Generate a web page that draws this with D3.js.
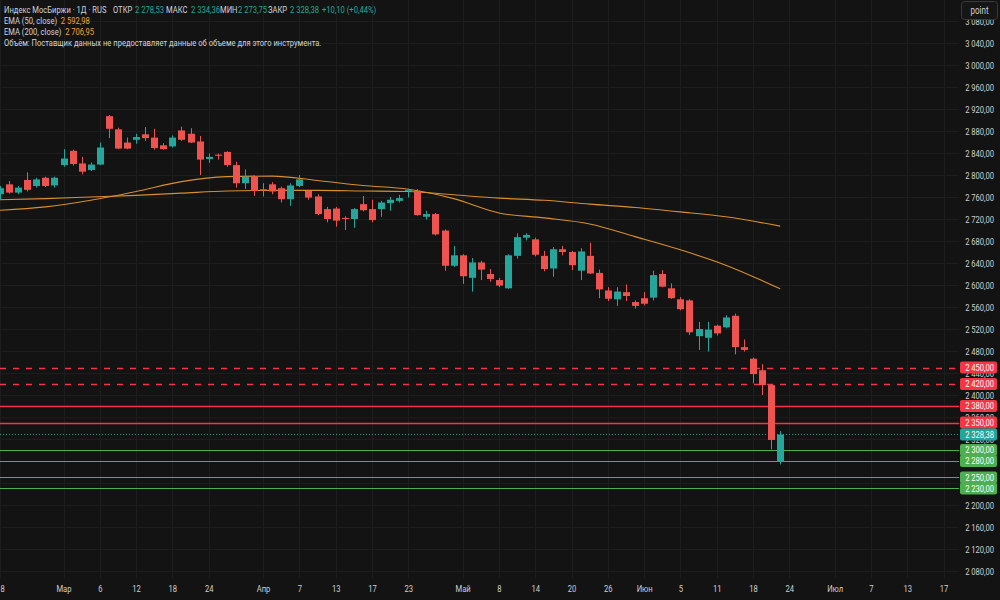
<!DOCTYPE html>
<html><head><meta charset="utf-8">
<script src="https://cdn.jsdelivr.net/npm/d3@7"></script>
<style>
html,body{margin:0;padding:0;background:#131313;}
svg{display:block;}
text{font-family:Roboto,"Liberation Sans",sans-serif;}
</style></head><body>
<svg id="chart" width="1000" height="600"></svg>
<script>
// ---- categories (trading days, 2026) ----
const dates = [
 "02-18","02-19","02-20","02-24","02-25","02-26","02-27",
 "03-02","03-03","03-04","03-05","03-06","03-09","03-10","03-11","03-12","03-13","03-16","03-17","03-18","03-19","03-20","03-23","03-24","03-25","03-26","03-27","03-30","03-31",
 "04-01","04-02","04-03","04-06","04-07","04-08","04-09","04-10","04-13","04-14","04-15","04-16","04-17","04-20","04-21","04-22","04-23","04-24","04-27","04-28","04-29","04-30",
 "05-04","05-05","05-06","05-07","05-08","05-11","05-12","05-13","05-14","05-15","05-18","05-19","05-20","05-21","05-22","05-25","05-26","05-27","05-28","05-29",
 "06-01","06-02","06-03","06-04","06-05","06-08","06-09","06-10","06-11","06-15","06-16","06-17","06-18","06-19","06-22","06-23",
 "06-24","06-25","06-26","06-29","06-30","07-01","07-02","07-03","07-06","07-07","07-08","07-09","07-10","07-13","07-14","07-15","07-16","07-17"
];
// ---- OHLC series ----
const openV  = [2765,2783,2768,2791,2780,2795,2781,2818,2844,2821,2809,2819,2907,2883,2859,2864,2874,2868,2854,2852,2881,2875,2861,2829,2837,2842,2818,2785,2797,2774,2783,2776,2756,2780,2771,2761,2738,2739,2722,2720,2747,2738,2738,2749,2753,2772,2771,2724,2729,2699,2635,2654,2613,2641,2620,2609,2594,2653,2686,2683,2653,2630,2665,2660,2626,2653,2622,2590,2574,2587,2569,2576,2577,2620,2594,2574,2572,2507,2504,2526,2523,2544,2487,2466,2445,2418,2278.53];
const highV  = [2780,2789,2780,2805,2795,2797,2797,2847,2846,2833,2823,2859,2909,2886,2868,2875,2887,2884,2858,2872,2888,2885,2871,2839,2839,2843,2824,2810,2799,2785,2787,2779,2785,2800,2773,2765,2742,2742,2725,2740,2762,2755,2753,2760,2764,2775,2774,2735,2731,2701,2671,2656,2649,2644,2629,2613,2656,2694,2694,2686,2662,2669,2671,2662,2667,2677,2628,2596,2596,2601,2572,2587,2626,2627,2603,2578,2574,2533,2533,2528,2545,2548,2501,2468,2456,2420,2334.36];
const lowV   = [2755,2766,2765,2770,2777,2778,2777,2815,2817,2801,2807,2818,2867,2847,2847,2857,2862,2846,2846,2850,2862,2858,2800,2822,2828,2815,2777,2775,2762,2761,2765,2750,2744,2778,2755,2727,2714,2706,2700,2704,2734,2714,2724,2735,2750,2759,2726,2719,2690,2626,2633,2602,2588,2609,2606,2596,2593,2648,2681,2652,2625,2615,2654,2627,2609,2620,2576,2571,2562,2571,2557,2563,2572,2596,2575,2554,2509,2482,2479,2508,2521,2474,2479,2421,2400,2301,2273.75];
const closeV = [2776,2768,2777,2773,2792,2780,2795,2830,2820,2806,2819,2850,2884,2848,2848,2869,2867,2849,2847,2868,2864,2859,2828,2833,2835,2818,2785,2797,2771,2772,2770,2756,2781,2792,2759,2729,2720,2717,2720,2738,2736,2718,2750,2755,2758,2773,2727,2729,2692,2635,2654,2616,2641,2628,2611,2599,2654,2687,2691,2655,2629,2665,2660,2636,2661,2621,2592,2575,2588,2580,2562,2566,2618,2597,2576,2556,2514,2520,2519,2512,2541,2487,2482,2438,2418,2318.28,2328.38];
// ---- EMA lines, read at sample bars ----
const emaIdx  = [0,5,10,15,20,25,30,35,40,45,50,55,60,65,70,75,80,86];
const ema50V  = [2736,2742,2754,2770,2788,2797,2798,2790,2781,2774,2757,2731,2722,2711,2688,2664,2636,2593];
const ema200V = [2755,2757,2760,2763,2767,2771,2772,2772,2771,2770,2764,2758,2754,2747,2741,2733,2724,2707];
// ---- horizontal levels ----
const levelValues = [2450,2420,2380,2350,2300,2280,2250,2230];
const levelKinds  = ["dashRed","dashRed","red","red","green","green","green","green"];
const lastPrice = 2328.38;
// ---- ticks ----
const yTicks = [2080,2120,2160,2200,2240,2280,2320,2360,2400,2440,2480,2520,2560,2600,2640,2680,2720,2760,2800,2840,2880,2920,2960,3000,3040,3080];
const xTickDates  = ["02-18","03-02","03-06","03-12","03-18","03-24","04-01","04-07","04-13","04-17","04-23","05-04","05-08","05-14","05-20","05-26","06-01","06-05","06-11","06-18","06-24","07-01","07-07","07-13","07-17"];
const xTickLabels = ["18","Мар","6","12","18","24","Апр","7","13","17","23","Май","8","14","20","26","Июн","5","11","18","24","Июл","7","13","17"];
// ---- legend texts ----
const legendRow1 = ["Индекс МосБиржи · 1Д · RUS","ОТКР","2 278,53","МАКС","2 334,36","МИН","2 273,75","ЗАКР","2 328,38","+10,10 (+0,44%)"];
const legendRow1Kind = ["t","t","v","t","v","t","v","t","v","v"];

const W = 1000, H = 600, plotRight = 959;
const UP = "#26a69a", DOWN = "#ef5350";
const SQ = "scale(0.8,1)";
const svg = d3.select("#chart");
svg.append("rect").attr("width", W).attr("height", H).attr("fill", "#131313");

const x = d3.scalePoint().domain(dates).range([0, 943.5]);
const y = d3.scaleLinear().domain([2080, 3080]).range([571, 21]);
const loc = d3.formatLocale({decimal: ",", thousands: "\u2009", grouping: [3], currency: ["", ""]});
const fmt = loc.format(",.2f");

// grid
const grid = svg.append("g");
grid.selectAll("line.h").data(yTicks).join("line")
  .attr("x1", 0).attr("x2", plotRight).attr("y1", d => Math.round(y(d)) + 0.5).attr("y2", d => Math.round(y(d)) + 0.5)
  .attr("stroke", "#1d1d1d");
grid.selectAll("line.v").data(xTickDates).join("line")
  .attr("y1", 0).attr("y2", 578).attr("x1", d => Math.round(x(d)) + 0.5).attr("x2", d => Math.round(x(d)) + 0.5)
  .attr("stroke", "#1d1d1d");

// level lines
const levelStyle = {
  dashRed: {stroke: "#f23645", dash: "6,7", w: 1.3},
  red:     {stroke: "#f23645", dash: null, w: 1.3},
  green:   {stroke: "#4caf50", dash: null, w: 1.1}
};
svg.append("g").selectAll("line").data(levelValues).join("line")
  .attr("x1", 0).attr("x2", plotRight)
  .attr("y1", d => Math.round(y(d)) + 0.5).attr("y2", d => Math.round(y(d)) + 0.5)
  .attr("stroke", (d, i) => levelStyle[levelKinds[i]].stroke)
  .attr("stroke-width", (d, i) => levelStyle[levelKinds[i]].w)
  .attr("stroke-dasharray", (d, i) => levelStyle[levelKinds[i]].dash);

// current price dotted line
svg.append("line").attr("x1", 0).attr("x2", plotRight)
  .attr("y1", Math.round(y(lastPrice)) + 0.5).attr("y2", Math.round(y(lastPrice)) + 0.5)
  .attr("stroke", "#3f8f88").attr("stroke-dasharray", "1,2");

// EMA lines
const emaLine = vals => d3.line().curve(d3.curveMonotoneX)
  .x((d, i) => x(dates[emaIdx[i]])).y(d => y(d))(vals);
svg.append("path").attr("d", emaLine(ema200V)).attr("fill", "none").attr("stroke", "#d98e2c").attr("stroke-width", 1.1);
svg.append("path").attr("d", emaLine(ema50V)).attr("fill", "none").attr("stroke", "#d98e2c").attr("stroke-width", 1.1);

// candles
const bars = openV.map((o, i) => ({d: dates[i], o, h: highV[i], l: lowV[i], c: closeV[i]}));
const cg = svg.append("g");
cg.selectAll("line").data(bars).join("line")
  .attr("x1", b => Math.round(x(b.d)) + 0.5).attr("x2", b => Math.round(x(b.d)) + 0.5)
  .attr("y1", b => y(b.h)).attr("y2", b => y(b.l))
  .attr("stroke", b => b.c >= b.o ? UP : DOWN);
const bw = 7;
cg.selectAll("rect").data(bars).join("rect")
  .attr("x", b => Math.round(x(b.d)) + 0.5 - bw / 2)
  .attr("width", bw)
  .attr("y", b => y(Math.max(b.o, b.c)))
  .attr("height", b => Math.max(1, Math.abs(y(b.o) - y(b.c))))
  .attr("fill", b => b.c >= b.o ? UP : DOWN);

// price axis
const yAxis = svg.append("g").attr("transform", `translate(994,0)`)
  .call(d3.axisRight(y).tickValues(yTicks).tickFormat(fmt).tickSize(0).tickPadding(0));
yAxis.select(".domain").remove();
yAxis.selectAll("text").attr("text-anchor", "end").attr("fill", "#d0d0d0").attr("font-size", 9.5)
  .attr("font-family", null).attr("x", 0).attr("transform", SQ);

// price boxes
const boxColor = {dashRed: "#f23645", red: "#f23645", green: "#4caf50"};
const boxes = levelValues.map((v, i) => ({v, c: boxColor[levelKinds[i]]}));
boxes.push({v: lastPrice, c: "#22a59b"});
const bg = svg.append("g");
const bs = bg.selectAll("g").data(boxes).join("g").attr("transform", b => `translate(0,${y(b.v)})`);
bs.append("rect").attr("x", 960).attr("y", -6).attr("width", 37).attr("height", 12).attr("rx", 2).attr("fill", b => b.c);
bs.append("g").attr("transform", "translate(994,0) " + SQ)
  .append("text").attr("x", 0).attr("y", 0).attr("dy", "0.35em").attr("text-anchor", "end")
  .attr("fill", "#ffffff").attr("font-size", 9.5).text(b => fmt(b.v));

// time axis
const xAxis = svg.append("g").attr("transform", "translate(0,585)")
  .call(d3.axisBottom(x).tickValues(xTickDates).tickFormat((d, i) => xTickLabels[i]).tickSize(0).tickPadding(0));
xAxis.select(".domain").remove();
xAxis.selectAll("text").attr("fill", "#d0d0d0").attr("font-size", 9.5).attr("font-family", null)
  .attr("dy", "0.71em").attr("transform", SQ);

// legend
const legendX = [4, 113, 135, 166, 191, 220, 238, 268, 290, 322];
const lg = svg.append("g").attr("font-size", 9.5);
lg.selectAll("g.r1").data(legendRow1).join("g")
  .attr("transform", (d, i) => `translate(${legendX[i]},12.5) ${SQ}`)
  .append("text").attr("fill", (d, i) => legendRow1Kind[i] === "v" ? UP : "#d1d4dc")
  .attr("font-size", 9.5).text(d => d);
const row = (yy, label, val) => {
  const g = lg.append("g").attr("transform", `translate(4,${yy}) ${SQ}`);
  const t = g.append("text").attr("xml:space", "preserve");
  t.append("tspan").attr("fill", "#d1d4dc").text(label);
  if (val) t.append("tspan").attr("fill", "#f0a23b").text(val);
};
row(23.5, "EMA (50, close)  ", "2 592,98");
row(35, "EMA (200, close)  ", "2 706,95");
row(46, "Объём: Поставщик данных не предоставляет данные об объеме для этого инструмента.", null);

// point button
svg.append("rect").attr("x", 961.5).attr("y", 1.5).attr("width", 36).attr("height", 18).attr("rx", 3)
  .attr("fill", "#161616").attr("stroke", "#3a3a3a");
svg.append("g").attr("transform", "translate(979.5,10.5) " + SQ)
  .append("text").attr("dy", "0.35em").attr("text-anchor", "middle")
  .attr("fill", "#cfcfcf").attr("font-size", 10).text("point");
</script>
</body></html>
